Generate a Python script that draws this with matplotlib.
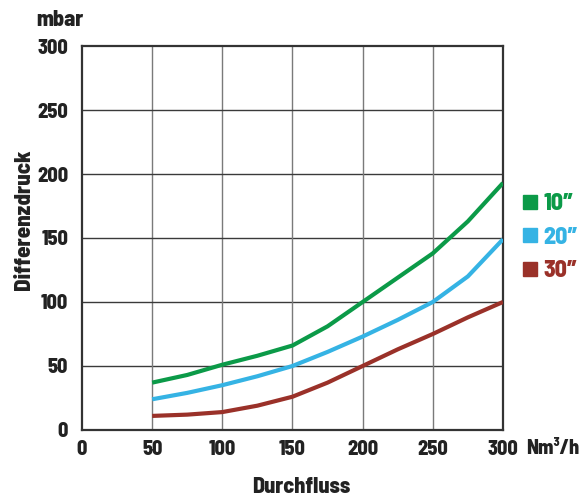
import matplotlib.pyplot as plt
from matplotlib.lines import Line2D

# Durchfluss (Nm³/h) und Differenzdruck (mbar) je Filtergröße
durchfluss = [50, 75, 100, 125, 150, 175, 200, 225, 250, 275, 300]
druck_10 = [37, 43, 51, 58, 66, 81, 100, 119, 138, 163, 193]
druck_20 = [24, 29, 35, 42, 50, 61, 73, 86, 100, 120, 149]
druck_30 = [11, 12, 14, 19, 26, 37, 50, 63, 75, 88, 100]

serien = ['10″', '20″', '30″']
farben = ['#0b9a48', '#35b3e4', '#9a3129']
ticks = [0, 50, 100, 150, 200, 250, 300]

plt.rcParams['font.family'] = ['Barlow Semi Condensed', 'DejaVu Sans']
plt.rcParams['font.stretch'] = 'condensed'
plt.rcParams['font.weight'] = 800
text_farbe = '#222222'

fig = plt.figure(figsize=(5.83, 4.99), dpi=100)
ax = fig.add_axes([0.1407, 0.1383, 0.722, 0.7695])

for werte, farbe in zip([druck_10, druck_20, druck_30], farben):
    ax.plot(durchfluss, werte, color=farbe, lw=3.0, solid_capstyle='butt',
            solid_joinstyle='round', zorder=3)

ax.set_xlim(0, 300)
ax.set_ylim(0, 300)
ax.set_xticks(ticks)
ax.set_yticks(ticks)
ax.tick_params(length=0, labelsize=14.5, colors=text_farbe)
ax.tick_params(axis='y', pad=10)
ax.tick_params(axis='x', pad=7)
for lab in ax.get_xticklabels() + ax.get_yticklabels():
    lab.set_fontweight(800)

for t in ticks[1:-1]:
    ax.axhline(t, color='#3a3a3a', lw=1.0, zorder=1)
    ax.axvline(t, color='#7a7a7a', lw=1.0, zorder=1)
for sp in ax.spines.values():
    sp.set_color('#333333')
    sp.set_linewidth(1.6)

fig.text(36 / 583, 1 - 20 / 499, 'mbar', fontsize=16, fontweight=800,
         ha='left', va='center', color=text_farbe)
fig.text(526 / 583, 1 - 449 / 499, 'Nm³/h', fontsize=14.5, fontweight=800,
         ha='left', va='center', color=text_farbe)
fig.text(301 / 583, 1 - 487 / 499, 'Durchfluss', fontsize=16, fontweight=800,
         ha='center', va='center', color=text_farbe)
fig.text(24 / 583, 1 - 220 / 499, 'Differenzdruck', fontsize=16.5, fontweight=800,
         ha='center', va='center', rotation=90, color=text_farbe)

handles = [Line2D([], [], ls='none', marker='s', markersize=10, color=f) for f in farben]
leg = fig.legend(handles, serien, loc='upper left', bbox_to_anchor=(510 / 583, 1 - 181 / 499),
                 frameon=False, handlelength=0.7, handletextpad=0.2, borderpad=0,
                 labelspacing=0.5, prop={'size': 17, 'weight': 800})
for txt, f in zip(leg.get_texts(), farben):
    txt.set_color(f)

fig.savefig('out.png', dpi=100)
